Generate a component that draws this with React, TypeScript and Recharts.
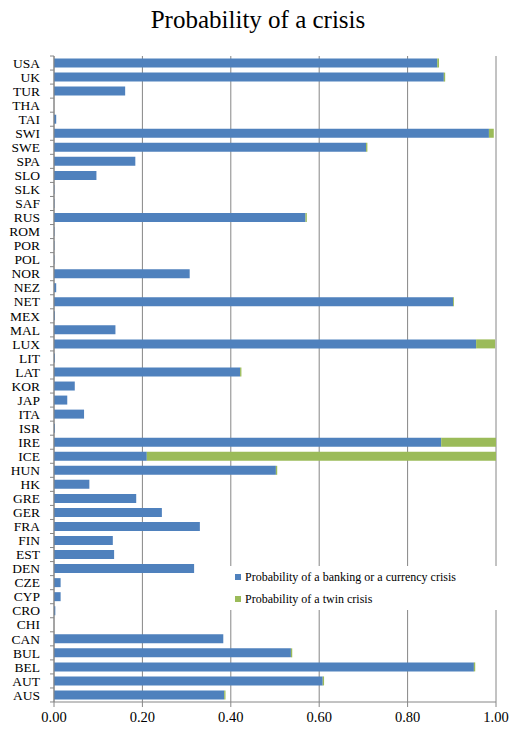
import React from 'react';
import { BarChart, Bar, XAxis, YAxis, CartesianGrid } from 'recharts';

const countries = [
  'USA', 'UK', 'TUR', 'THA', 'TAI', 'SWI', 'SWE', 'SPA', 'SLO', 'SLK', 'SAF', 'RUS', 'ROM', 'POR', 'POL',
  'NOR', 'NEZ', 'NET', 'MEX', 'MAL', 'LUX', 'LIT', 'LAT', 'KOR', 'JAP', 'ITA', 'ISR', 'IRE', 'ICE', 'HUN',
  'HK', 'GRE', 'GER', 'FRA', 'FIN', 'EST', 'DEN', 'CZE', 'CYP', 'CRO', 'CHI', 'CAN', 'BUL', 'BEL', 'AUT', 'AUS',
];

const bankingOrCurrency = [
  0.867, 0.882, 0.161, 0, 0.005, 0.984, 0.706, 0.184, 0.096, 0.001, 0.001, 0.569, 0.001, 0.001, 0.001,
  0.307, 0.005, 0.903, 0.002, 0.139, 0.955, 0.002, 0.421, 0.047, 0.03, 0.068, 0.002, 0.876, 0.21, 0.502,
  0.08, 0.186, 0.244, 0.33, 0.133, 0.136, 0.317, 0.015, 0.015, 0.003, 0, 0.383, 0.536, 0.95, 0.608, 0.385,
];

const twin = [
  0.004, 0.003, 0, 0, 0, 0.011, 0.003, 0, 0, 0, 0, 0.003, 0, 0, 0,
  0, 0, 0.002, 0, 0, 0.043, 0, 0.003, 0, 0, 0, 0, 0.124, 0.79, 0.003,
  0, 0, 0, 0, 0, 0, 0, 0, 0, 0, 0, 0, 0.003, 0.003, 0.003, 0.003,
];

const xTicks = [0, 0.2, 0.4, 0.6, 0.8, 1];

const seriesNames = [
  'Probability of a banking or a currency crisis',
  'Probability of a twin crisis',
];
const seriesColors = ['#4F81BD', '#9BBB59'];

const data = countries.map((c, i) => ({ country: c, bank: bankingOrCurrency[i], twin: twin[i] }));

const CountryTick = (props: any) => {
  const { x, y, payload, index } = props;
  const half = 7;
  return (
    <g>
      <text x={x} y={y} dy="0.35em" textAnchor="end" fontFamily="Liberation Serif" fontSize={13.5} fill="#000">
        {payload.value}
      </text>
      <line x1={x + 10} x2={x + 14} y1={y - half} y2={y - half} stroke="#868686" />
      {index === countries.length - 1 && (
        <line x1={x + 10} x2={x + 14} y1={y + half} y2={y + half} stroke="#868686" />
      )}
    </g>
  );
};

const LegendBox = () => (
  <div style={{
    position: 'absolute', left: 229, top: 566, width: 258, padding: '0 6px',
    background: '#fff', fontFamily: 'Liberation Serif', fontSize: 12, color: '#000',
  }}>
    {seriesNames.map((n, i) => (
      <div key={n} style={{ display: 'flex', alignItems: 'center', height: 22 }}>
        <span style={{ width: 6, height: 6, background: seriesColors[i], marginRight: 4, display: 'inline-block' }} />
        {n}
      </div>
    ))}
  </div>
);

export default function App() {
  return (
    <div style={{ position: 'absolute', left: 0, top: 0, width: 510, height: 731, background: '#fff' }}>
      <div style={{ position: 'absolute', top: 6, left: 0, width: 516, textAlign: 'center', fontFamily: 'Liberation Serif', fontSize: 25 }}>
        Probability of a crisis
      </div>
      <BarChart
        width={510}
        height={731}
        data={data}
        layout="vertical"
        margin={{ top: 56, right: 14, bottom: 0, left: 0 }}
        barCategoryGap="18%"
      >
        <CartesianGrid horizontal={false} stroke="#868686" />
        <XAxis
          type="number"
          domain={[0, 1]}
          ticks={xTicks}
          tickFormatter={(v: number) => v.toFixed(2)}
          height={29}
          stroke="#868686"
          tickSize={5}
          tickMargin={5}
          tick={{ fontFamily: 'Liberation Serif', fontSize: 14.5, fill: '#000' }}
        />
        <YAxis
          type="category"
          dataKey="country"
          width={54}
          interval={0}
          tickLine={false}
          tickSize={0}
          tickMargin={14}
          stroke="#868686"
          tick={<CountryTick />}
        />
        <Bar dataKey="bank" name={seriesNames[0]} stackId="a" fill={seriesColors[0]} isAnimationActive={false} />
        <Bar dataKey="twin" name={seriesNames[1]} stackId="a" fill={seriesColors[1]} isAnimationActive={false} />
      </BarChart>
      <LegendBox />
    </div>
  );
}
